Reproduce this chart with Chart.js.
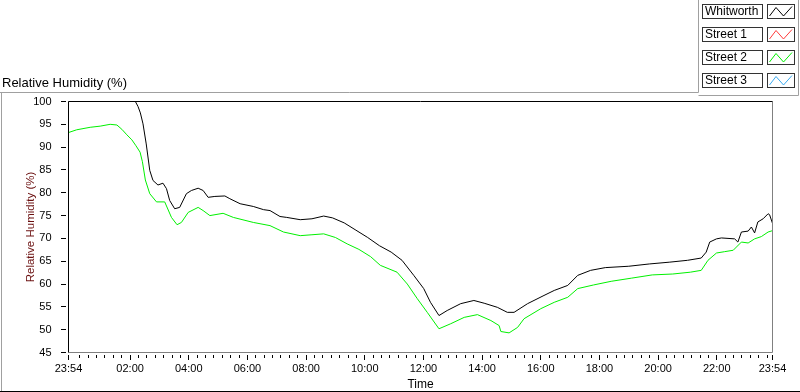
<!DOCTYPE html>
<html>
<head>
<meta charset="utf-8">
<script src="https://cdn.jsdelivr.net/npm/chart.js@4"></script>
<style>
  html, body { margin: 0; padding: 0; background: #fff; }
  #wrap { width: 800px; height: 392px; }
</style>
</head>
<body>
<div id="wrap"><canvas id="graficaHumedad" width="800" height="392"></canvas></div>
<script>
// Horas contadas desde las 23:54 (0 = 23:54, 24 = 23:54 del dia siguiente)
const xTickHours = [0, 2.1, 4.1, 6.1, 8.1, 10.1, 12.1, 14.1, 16.1, 18.1, 20.1, 22.1, 24];
const xTickLabels = ['23:54', '02:00', '04:00', '06:00', '08:00', '10:00', '12:00', '14:00', '16:00', '18:00', '20:00', '22:00', '23:54'];
const yMin = 45;
const yMax = 100;
const yStep = 5;

const seriesNames = ['Whitworth', 'Street 1', 'Street 2', 'Street 3'];
const seriesColors = ['#000000', '#ff3b3b', '#00f000', '#3aaaf0'];

// [hora, humedad relativa]
const whitworth = [
    [0, 100], [2.28, 100], [2.37, 98.9], [2.45, 97.5], [2.54, 95.1], [2.65, 90.7], [2.77, 84.9],
    [2.88, 82.7], [3.05, 81.7], [3.22, 82.1], [3.34, 80.9], [3.45, 78.3], [3.62, 76.5], [3.79, 76.8],
    [4.02, 79.8], [4.19, 80.5], [4.42, 81.0], [4.59, 80.5], [4.76, 79.0], [4.99, 79.2], [5.33, 79.3],
    [5.5, 78.7], [5.85, 77.6], [6.3, 77.0], [6.65, 76.3], [6.87, 76.1], [7.21, 74.8], [7.44, 74.6],
    [7.9, 74.1], [8.3, 74.3], [8.7, 74.9], [9.0, 74.5], [9.4, 73.4], [9.8, 71.8], [10.2, 70.2],
    [10.6, 68.4], [11.0, 67.0], [11.37, 65.2], [11.77, 61.9], [12.11, 59.0], [12.34, 56.0], [12.63, 53.1],
    [12.91, 54.2], [13.37, 55.7], [13.82, 56.4], [14.17, 55.8], [14.62, 54.9], [14.96, 53.8], [15.19, 53.8],
    [15.65, 55.7], [16.21, 57.5], [16.56, 58.6], [17.02, 59.7], [17.36, 61.9], [17.8, 63.0], [18.3, 63.6],
    [19.1, 63.9], [19.8, 64.4], [20.5, 64.8], [21.1, 65.2], [21.57, 65.7], [21.74, 67.0], [21.86, 69.2],
    [22.09, 69.9], [22.26, 70.1], [22.71, 69.9], [22.82, 69.2], [22.94, 71.4], [23.17, 71.6], [23.28, 72.5],
    [23.39, 71.2], [23.5, 73.6], [23.68, 74.3], [23.85, 75.4], [23.9, 75.2], [24.0, 73.3]
];
const street1 = [];
const street2 = [
    [0, 93.2], [0.28, 93.8], [0.74, 94.35], [1.08, 94.6], [1.42, 95.0], [1.65, 94.85], [1.82, 93.9],
    [1.99, 92.7], [2.16, 91.6], [2.3, 90.3], [2.44, 88.9], [2.52, 86.8], [2.62, 82.8], [2.77, 79.8],
    [3.0, 78.0], [3.28, 78.0], [3.51, 74.6], [3.7, 73.0], [3.85, 73.5], [4.08, 75.7], [4.42, 76.8],
    [4.59, 76.1], [4.82, 75.0], [5.27, 75.5], [5.62, 74.6], [6.3, 73.5], [6.87, 72.8], [7.33, 71.4],
    [7.9, 70.6], [8.3, 70.8], [8.7, 71.0], [9.1, 70.2], [9.5, 68.8], [9.9, 67.6], [10.3, 66.0],
    [10.63, 64.1], [11.2, 62.6], [11.55, 60.0], [11.89, 56.8], [12.23, 53.8], [12.63, 50.2], [13.03, 51.3],
    [13.49, 52.7], [13.94, 53.3], [14.4, 52.0], [14.68, 50.9], [14.74, 49.6], [15.02, 49.3], [15.31, 50.5],
    [15.53, 52.4], [16.1, 54.6], [16.56, 56.0], [17.02, 57.1], [17.36, 59.0], [17.9, 59.8], [18.5, 60.6],
    [19.2, 61.3], [19.9, 62.0], [20.6, 62.2], [21.2, 62.6], [21.57, 63.0], [21.8, 65.2], [22.09, 66.8],
    [22.37, 67.1], [22.66, 67.4], [22.94, 69.2], [23.17, 69.0], [23.39, 69.9], [23.62, 70.4], [23.85, 71.4],
    [24.0, 71.7]
];
const street3 = [];

const seriesData = [whitworth, street1, street2, street3];

function toPoints(arr) {
    return arr.map(function (p) { return { x: p[0], y: p[1] }; });
}

// Marco, marcas de los ejes, titulo superior y leyenda estilo LabVIEW
const marcoPlugin = {
    id: 'marco',
    afterDraw: function (chart) {
        const ctx = chart.ctx;
        const a = chart.chartArea;
        const xs = chart.scales.x;
        const ys = chart.scales.y;
        ctx.save();
        ctx.lineWidth = 1;

        // panel exterior
        ctx.strokeStyle = '#a0a0a0';
        ctx.beginPath();
        ctx.moveTo(0, 92.5); ctx.lineTo(698.5, 92.5);
        ctx.moveTo(1.5, 92.5); ctx.lineTo(1.5, 392);
        ctx.moveTo(698.5, 0); ctx.lineTo(698.5, 92.5);
        ctx.moveTo(698.5, 95.5); ctx.lineTo(798.5, 95.5);
        ctx.moveTo(798.5, 0); ctx.lineTo(798.5, 95.5);
        ctx.stroke();
        ctx.strokeStyle = '#000';
        ctx.beginPath();
        ctx.moveTo(0, 391.5); ctx.lineTo(800, 391.5);
        ctx.stroke();

        // borde del area de trazado
        ctx.strokeStyle = '#808080';
        ctx.beginPath();
        ctx.moveTo(a.right, a.top); ctx.lineTo(a.right, a.bottom);
        ctx.lineTo(a.left, a.bottom);
        ctx.stroke();
        ctx.strokeStyle = '#000';
        ctx.beginPath();
        ctx.moveTo(a.left, a.bottom); ctx.lineTo(a.left, a.top); ctx.lineTo(a.right, a.top);
        ctx.stroke();

        // marcas eje y
        ctx.beginPath();
        for (let v = yMin; v <= yMax; v += yStep) {
            const py = Math.round(ys.getPixelForValue(v) - 0.5) + 0.5;
            ctx.moveTo(61, py); ctx.lineTo(66, py);
        }
        // marcas eje x (mayores y menores)
        const majors = xTickHours.map(function (h) { return Math.round(xs.getPixelForValue(h) - 0.5) + 0.5; });
        majors.forEach(function (px) { ctx.moveTo(px, 355); ctx.lineTo(px, 360); });
        const minorStep = 2 / 7;
        for (let k = -8; k < 90; k++) {
            const h = 2.1 + k * minorStep;
            if (h < 0.05 || h > 23.98) continue;
            if (Math.abs(((h - 2.1) / 2) - Math.round((h - 2.1) / 2)) < 0.01) continue;
            const px = Math.round(xs.getPixelForValue(h) - 0.5) + 0.5;
            ctx.moveTo(px, 355); ctx.lineTo(px, 358);
        }
        ctx.stroke();

        // titulo superior
        ctx.fillStyle = '#000';
        ctx.font = '13px "Liberation Sans"';
        ctx.textBaseline = 'alphabetic';
        ctx.textAlign = 'left';
        ctx.fillText('Relative Humidity (%)', 2, 87);

        // leyenda
        ctx.font = '12px "Liberation Sans"';
        ctx.textBaseline = 'middle';
        seriesNames.forEach(function (name, i) {
            const y0 = 4 + i * 23;
            ctx.strokeStyle = '#333';
            ctx.strokeRect(702.5, y0 + 0.5, 60, 14);
            ctx.strokeRect(767.5, y0 + 0.5, 27, 14);
            ctx.fillStyle = '#000';
            ctx.fillText(name, 705, y0 + 8);
            ctx.strokeStyle = seriesColors[i];
            ctx.beginPath();
            ctx.moveTo(769.5, y0 + 12);
            ctx.lineTo(776, y0 + 3.5);
            ctx.lineTo(783.5, y0 + 12);
            ctx.lineTo(792, y0 + 2.5);
            ctx.stroke();
        });
        ctx.restore();
    }
};

const ctx = document.getElementById('graficaHumedad').getContext('2d');

const graficaHumedad = new Chart(ctx, {
    type: 'line',
    data: {
        datasets: seriesNames.map(function (name, i) {
            return {
                label: name,
                data: toPoints(seriesData[i]),
                borderColor: seriesColors[i],
                borderWidth: 1,
                pointRadius: 0,
                tension: 0,
                fill: false
            };
        })
    },
    options: {
        responsive: false,
        animation: false,
        devicePixelRatio: 1,
        layout: {
            padding: { top: 101.5, right: 27.5, left: 0, bottom: 0 }
        },
        plugins: {
            legend: { display: false },
            tooltip: { enabled: false }
        },
        scales: {
            x: {
                type: 'linear',
                min: 0,
                max: 24,
                afterBuildTicks: function (scale) {
                    scale.ticks = xTickHours.map(function (h) { return { value: h }; });
                },
                afterFit: function (scale) { scale.height = 39.5; },
                ticks: {
                    autoSkip: false,
                    maxRotation: 0,
                    color: '#000',
                    padding: 2,
                    font: { family: 'Liberation Sans', size: 11 },
                    callback: function (value, index) { return xTickLabels[index]; }
                },
                grid: { display: false },
                border: { display: false },
                title: {
                    display: true,
                    text: 'Time',
                    color: '#000',
                    font: { family: 'Liberation Sans', size: 12 },
                    padding: { top: 0, bottom: 0 }
                }
            },
            y: {
                min: yMin,
                max: yMax,
                afterFit: function (scale) { scale.width = 68.5; },
                ticks: {
                    stepSize: yStep,
                    color: '#000',
                    padding: 9,
                    font: { family: 'Liberation Sans', size: 11 }
                },
                grid: { display: false },
                border: { display: false },
                title: {
                    display: true,
                    text: 'Relative Humidity (%)',
                    color: '#6b1010',
                    font: { family: 'Liberation Sans', size: 11.5 },
                    padding: { top: 24, bottom: 0 }
                }
            }
        }
    },
    plugins: [marcoPlugin]
});
</script>
</body>
</html>
